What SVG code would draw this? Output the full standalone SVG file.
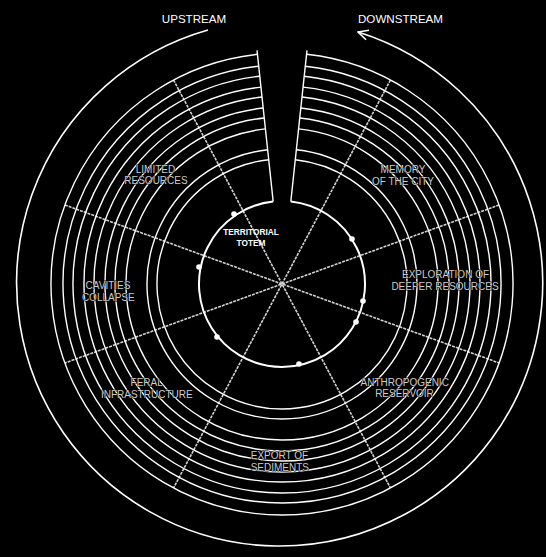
<svg xmlns="http://www.w3.org/2000/svg" width="546" height="557" viewBox="0 0 546 557">
<defs>
<style>
.ring{fill:none;stroke:#fff;stroke-width:1.4}
.inner{fill:none;stroke:#fff;stroke-width:2}
.wedge{fill:none;stroke:#fff;stroke-width:1.4}
.ray{stroke:#d2d2d2;stroke-width:1.6;stroke-dasharray:3 1;fill:none}
.flow{fill:none;stroke:#fff;stroke-width:1.6}
.lbl{font-family:"Liberation Sans",Arial,sans-serif;font-size:10px;fill:#cccccc;text-anchor:middle;stroke:#000;stroke-width:1;paint-order:stroke}
.head{font-family:"Liberation Sans",Arial,sans-serif;font-size:11.6px;fill:#fff;text-anchor:middle}
.totem{font-family:"Liberation Sans",Arial,sans-serif;font-size:8.3px;font-weight:bold;fill:#fff;text-anchor:middle}
.dot{fill:#fff}
</style>
<marker id="arr" viewBox="0 0 12 12" refX="11" refY="6" markerWidth="12" markerHeight="12" markerUnits="userSpaceOnUse" orient="auto">
<path d="M1 1 L11 6 L1 11" fill="none" stroke="#fff" stroke-width="1.6"/>
</marker>
</defs>
<rect width="546" height="557" fill="#000"/>
<g id="connectors">
<line class="ray" x1="173.55" y1="80.05" x2="390.45" y2="487.95"/>
<line class="ray" x1="390.45" y1="80.05" x2="173.55" y2="487.95"/>
<line class="ray" x1="64.93" y1="205" x2="499.07" y2="363"/>
<line class="ray" x1="499.07" y1="205" x2="64.93" y2="363"/>
<path class="flow" d="M208 30 A263 263 0 1 0 358 32" marker-end="url(#arr)"/>
</g>
<g id="rings">
<path class="ring" d="M306.55 54.3 A231 231 0 1 1 257.45 54.3"/>
<path class="ring" d="M305.28 66.25 A219 219 0 1 1 258.72 66.25"/>
<path class="ring" d="M304.22 76.19 A209 209 0 1 1 259.78 76.19"/>
<path class="ring" d="M303.05 87.13 A198 198 0 1 1 260.95 87.13"/>
<path class="ring" d="M301.98 97.07 A188 188 0 1 1 262.02 97.07"/>
<path class="ring" d="M300.82 108.01 A177 177 0 1 1 263.18 108.01"/>
<path class="ring" d="M299.75 117.95 A167 167 0 1 1 264.25 117.95"/>
<path class="ring" d="M298.58 128.89 A156 156 0 1 1 265.42 128.89"/>
<path class="ring" d="M296.35 149.77 A135 135 0 1 1 267.65 149.77"/>
<path class="ring" d="M295.29 159.71 A125 125 0 1 1 268.71 159.71"/>
<path class="wedge" d="M273.18 201.47 L257.02 50.34"/>
<path class="wedge" d="M290.82 201.47 L306.98 50.34"/>
</g>
<g id="territorial-totem">
<path class="inner" d="M290.82 201.47 A83 83 0 1 1 273.18 201.47"/>
<circle class="dot" cx="234" cy="214" r="2.8"/>
<circle class="dot" cx="352" cy="239" r="2.8"/>
<circle class="dot" cx="199" cy="267" r="2.8"/>
<circle class="dot" cx="363" cy="301" r="2.8"/>
<circle class="dot" cx="356" cy="322" r="2.8"/>
<circle class="dot" cx="217" cy="337" r="2.8"/>
<circle class="dot" cx="299" cy="364" r="2.8"/>
<text class="totem" x="251" y="235">TERRITORIAL</text>
<text class="totem" x="251" y="245.7">TOTEM</text>
</g>
<g id="upstream"><text class="head" x="194" y="23">UPSTREAM</text></g>
<g id="downstream"><text class="head" x="400.5" y="23">DOWNSTREAM</text></g>
<g id="limited-resources">
<text class="lbl" x="155.5" y="172.5">LIMITED</text>
<text class="lbl" x="156" y="184">RESOURCES</text>
</g>
<g id="memory-of-the-city">
<text class="lbl" x="403" y="173">MEMORY</text>
<text class="lbl" x="403" y="185">OF THE CITY</text>
</g>
<g id="exploration">
<text class="lbl" x="445.5" y="278">EXPLORATION OF</text>
<text class="lbl" x="445" y="290">DEEPER RESOURCES</text>
</g>
<g id="cavities-collapse">
<text class="lbl" x="108" y="289">CAVITIES</text>
<text class="lbl" x="108.3" y="300.7">COLLAPSE</text>
</g>
<g id="feral-infrastructure">
<text class="lbl" x="146.7" y="386">FERAL</text>
<text class="lbl" x="146.8" y="397.5">INFRASTRUCTURE</text>
</g>
<g id="anthropogenic-reservoir">
<text class="lbl" x="404.7" y="386">ANTHROPOGENIC</text>
<text class="lbl" x="404.5" y="397">RESERVOIR</text>
</g>
<g id="export-of-sediments">
<text class="lbl" x="279.5" y="459">EXPORT OF</text>
<text class="lbl" x="279.8" y="470.5">SEDIMENTS</text>
</g>
</svg>
